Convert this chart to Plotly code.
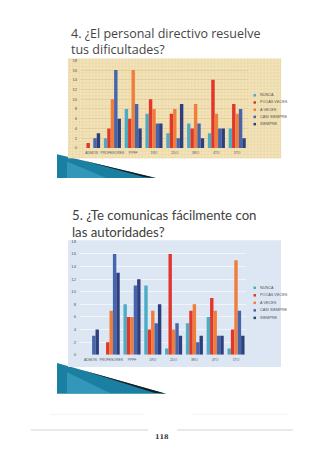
import plotly.graph_objects as go

# ---------------- data ----------------
categories = ["ADMON", "PROFESORES", "PPFF", "1RO", "2DO", "3RO", "4TO", "5TO"]
series_names = ["NUNCA", "POCAS VECES", "A VECES", "CASI SIEMPRE", "SIEMPRE"]
series_colors = ["#4bacc6", "#e0362c", "#f07d3a", "#4565ad", "#2f3f7e"]

q4_nunca = [0, 2, 8, 7, 3, 5, 3, 4]
q4_pocas = [1, 4, 6, 10, 7, 4, 14, 9]
q4_aveces = [0, 10, 16, 8, 8, 9, 7, 7]
q4_casi = [2, 16, 9, 5, 2, 5, 4, 8]
q4_siempre = [3, 6, 4, 5, 9, 2, 4, 2]

q5_nunca = [0, 0, 8, 11, 1, 5, 6, 1]
q5_pocas = [0, 2, 6, 4, 16, 7, 9, 4]
q5_aveces = [0, 7, 6, 7, 4, 8, 7, 15]
q5_casi = [3, 16, 11, 5, 5, 2, 3, 7]
q5_siempre = [4, 13, 12, 8, 3, 3, 3, 3]

y_ticks = [0, 2, 4, 6, 8, 10, 12, 14, 16, 18]

title4 = ["4. ¿El personal directivo resuelve", "tus dificultades?"]
title5 = ["5. ¿Te comunicas fácilmente con", "las autoridades?"]
page_number = "118"

q4 = [q4_nunca, q4_pocas, q4_aveces, q4_casi, q4_siempre]
q5 = [q5_nunca, q5_pocas, q5_aveces, q5_casi, q5_siempre]

# ---------------- layout helpers ----------------
W, H = 320, 452


def px(x):
    return x / W


def py(y):
    return 1 - y / H


fig = go.Figure()

for i, name in enumerate(series_names):
    fig.add_trace(go.Bar(x=categories, y=q4[i], name=name, marker_color=series_colors[i],
                         marker_line_width=0, xaxis="x", yaxis="y", showlegend=False))
    fig.add_trace(go.Bar(x=categories, y=q5[i], name=name, marker_color=series_colors[i],
                         marker_line_width=0, xaxis="x2", yaxis="y2", showlegend=False))

tick_font = dict(family="Liberation Sans", size=4.2, color="#555555")
xtick_font = dict(family="Liberation Sans", size=3.4, color="#555555")

shapes = []
annotations = []

# decorative teal wedges (page-curl like)
for (x0, y0, y1, x1) in [(57, 153, 177, 156), (57, 364, 395, 166)]:
    shapes.append(dict(type="path", xref="paper", yref="paper", layer="below",
                       path=f"M {px(x0)},{py(y0)} L {px(x0)},{py(y1)} L {px(x1)},{py(y1)} Z",
                       fillcolor="#1b7fa2", line=dict(width=0)))
    xm = x0 + (x1 - x0) * 0.5
    shapes.append(dict(type="path", xref="paper", yref="paper", layer="below",
                       path=f"M {px(x0+10)},{py(y1)} L {px(xm)},{py(y1)} L {px(x0+10)},{py(y0 + (y1-y0)*0.3)} Z",
                       fillcolor="#4bb0cf", opacity=0.5, line=dict(width=0)))
    slope = (y1 - y0) / (x1 - x0)
    xa = x0 + 25
    shapes.append(dict(type="path", xref="paper", yref="paper", layer="below",
                       path=(f"M {px(xa)},{py(y0 + slope*25)} L {px(x1)},{py(y1)} "
                             f"L {px(x1-12)},{py(y1 - 1.0)} Z"),
                       fillcolor="#1a1a1a", line=dict(width=0)))

# panel backgrounds
shapes.append(dict(type="rect", xref="paper", yref="paper", layer="below",
                   x0=px(68), x1=px(281), y0=py(157), y1=py(56),
                   fillcolor="#f2e3ba", line=dict(width=0)))
xx = 69.5
while xx < 281:
    shapes.append(dict(type="line", xref="paper", yref="paper", layer="below",
                       x0=px(xx), x1=px(xx), y0=py(157), y1=py(56),
                       line=dict(color="#e8d4a2", width=0.5)))
    xx += 3.3
yy = 57.5
while yy < 157:
    shapes.append(dict(type="line", xref="paper", yref="paper", layer="below",
                       x0=px(68), x1=px(281), y0=py(yy), y1=py(yy),
                       line=dict(color="#e8d4a2", width=0.5)))
    yy += 3.3

shapes.append(dict(type="rect", xref="paper", yref="paper", layer="below",
                   x0=px(68), x1=px(281), y0=py(368), y1=py(240),
                   fillcolor="#dde7f3", line=dict(width=0)))

# footer lines
for (xa, xb) in [(31, 148), (177, 293)]:
    shapes.append(dict(type="line", xref="paper", yref="paper",
                       x0=px(xa), x1=px(xb), y0=py(431.7), y1=py(431.7),
                       line=dict(color="#dde3ea", width=1.5)))
for (xa, xb) in [(50, 143), (193, 287)]:
    shapes.append(dict(type="line", xref="paper", yref="paper",
                       x0=px(xa), x1=px(xb), y0=py(416), y1=py(416),
                       line=dict(color="#f3f4f6", width=1)))

# manual legends
for (ly0, step) in [(93.3, 7.3), (288, 7.6)]:
    for i, name in enumerate(series_names):
        yc = ly0 + i * step
        shapes.append(dict(type="rect", xref="paper", yref="paper",
                           x0=px(253.5), x1=px(256), y0=py(yc + 1.25), y1=py(yc - 1.25),
                           fillcolor=series_colors[i], line=dict(width=0)))
        annotations.append(dict(text=name, xref="paper", yref="paper", x=px(257.5), y=py(yc),
                                xanchor="left", yanchor="middle", showarrow=False,
                                font=dict(family="Liberation Sans", size=3.8, color="#555555")))

# titles (one text block each, two lines)
annotations.append(dict(text="<br>".join(title4), xref="paper", yref="paper", x=px(70), y=py(38.8),
                        xanchor="left", yanchor="middle", align="left", showarrow=False, borderpad=0,
                        font=dict(family="Open Sans", size=12.5, color="#454545")))
annotations.append(dict(text="<br>".join(title5), xref="paper", yref="paper", x=px(70.5), y=py(222.8),
                        xanchor="left", yanchor="middle", align="left", showarrow=False, borderpad=0,
                        font=dict(family="Lato", size=13.2, color="#404040")))

annotations.append(dict(text=page_number, xref="paper", yref="paper", x=px(161.7), y=py(439),
                        xanchor="center", yanchor="middle", showarrow=False,
                        font=dict(family="DejaVu Serif", size=6.5, color="#333333", weight="bold")))

axis_common_x = dict(type="category", showgrid=False, showline=False, ticks="",
                     tickfont=xtick_font, tickangle=0, fixedrange=True, ticklabelstandoff=2)
axis_common_y = dict(range=[0, 18], tickvals=y_ticks, ticks="", showline=False,
                     zeroline=False, tickfont=tick_font, fixedrange=True, ticklabelstandoff=3)

fig.update_layout(
    width=W, height=H,
    margin=dict(l=0, r=0, t=0, b=0),
    paper_bgcolor="white",
    plot_bgcolor="rgba(0,0,0,0)",
    barmode="group", bargap=0.18, bargroupgap=0,
    xaxis=dict(domain=[px(81.2), px(247.6)], anchor="y", **axis_common_x),
    yaxis=dict(domain=[py(146.5), py(58)], anchor="x", showgrid=True,
               gridcolor="#e6d09a", gridwidth=0.6, **axis_common_y),
    xaxis2=dict(domain=[px(80), px(246.4)], anchor="y2", **axis_common_x),
    yaxis2=dict(domain=[py(355.7), py(241)], anchor="x2", showgrid=True,
                gridcolor="#f1f5fa", gridwidth=0.8, **axis_common_y),
    shapes=shapes,
    annotations=annotations,
    font=dict(family="Liberation Sans"),
)

fig.write_html("out.html")
